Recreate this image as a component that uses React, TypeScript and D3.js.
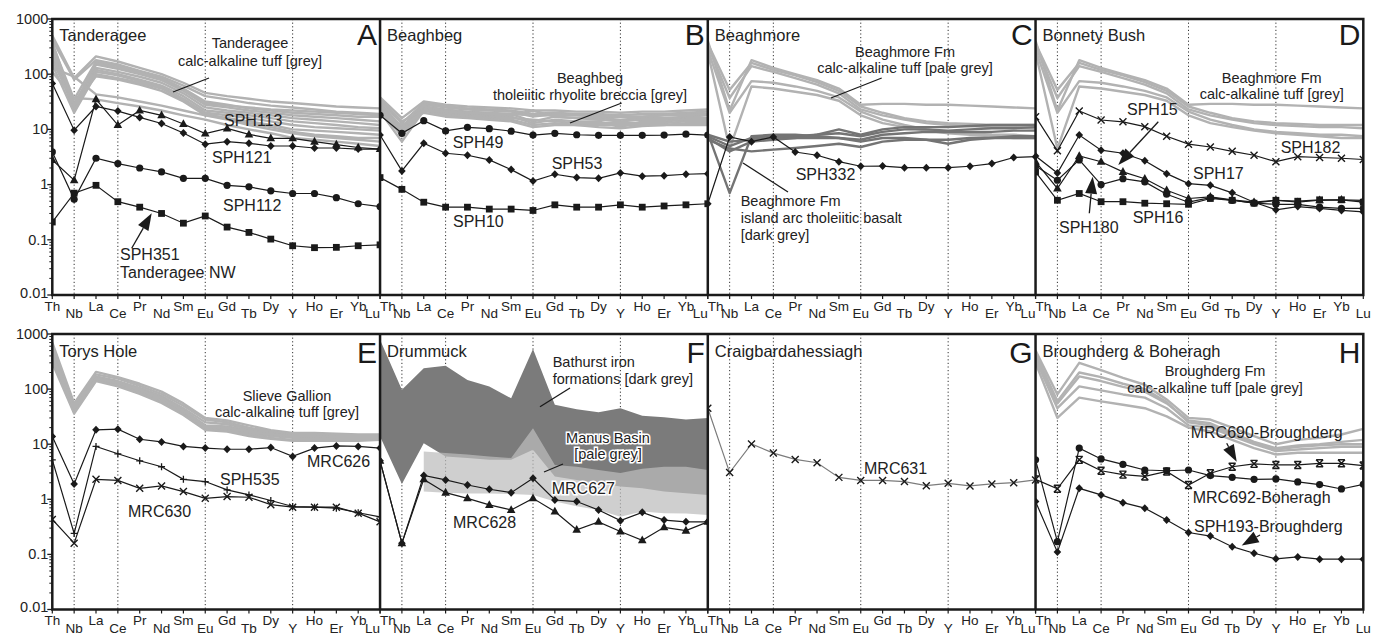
import React from 'react';
import * as d3 from 'd3';

// element order on every spider diagram
const ELEMENTS = ['Th', 'Nb', 'La', 'Ce', 'Pr', 'Nd', 'Sm', 'Eu', 'Gd', 'Tb', 'Dy', 'Y', 'Ho', 'Er', 'Yb', 'Lu'];
const DOTTED = ['Nb', 'Ce', 'Eu', 'Y'];
const Y_TICKS = [1000, 100, 10, 1, 0.1, 0.01];
const Y_TICK_LABELS = ['1000', '100', '10', '1', '0.1', '0.01'];

// ---- grey reference fields ----
const TANDERAGEE_TUFF = [
  [500, 85, 210, 170, 130, 100, 70, 46, 40, 36, 32, 30, 28, 26, 25, 24],
  [420, 80, 180, 150, 115, 90, 62, 40, 35, 30, 27, 25, 23, 21, 20, 19],
  [350, 35, 170, 140, 110, 85, 55, 32, 28, 24, 22, 20, 19, 18, 17, 17],
  [300, 25, 150, 125, 100, 78, 50, 28, 25, 22, 20, 18, 17, 16, 15, 14],
  [280, 30, 130, 110, 90, 70, 45, 25, 22, 20, 18, 16, 15, 14, 13, 12],
  [250, 22, 120, 100, 80, 62, 40, 22, 20, 18, 16, 14, 13, 12, 11, 10.5],
  [200, 24, 110, 95, 75, 58, 36, 20, 18, 16, 14, 12, 11, 10.5, 10, 9.5],
  [180, 28, 92, 80, 65, 50, 32, 18, 16, 14, 12, 10, 9.5, 9, 8.5, 8],
  [150, 20, 100, 85, 70, 55, 34, 19, 16, 13, 11, 9, 8, 7.5, 7, 7],
  [130, 90, 43, 38, 32, 27, 22, 18, 15, 12, 10, 8.5, 7.5, 7, 6.5, 6],
  [110, 37, 35, 30, 26, 22, 18, 15, 12, 10, 8.5, 7, 6.5, 6, 5.5, 5],
  [380, 27, 160, 130, 105, 82, 52, 30, 27, 25, 23, 22, 21, 20, 19, 18],
];
const BEAGHBEG_BRECCIA = [
  [38, 16, 32, 28, 26, 25, 24, 22, 22, 21, 21, 20, 21, 21, 22, 23],
  [33, 13, 30, 26, 24, 23, 22, 19, 20, 19, 19, 18, 19, 19, 20, 21],
  [30, 11, 28, 25, 23, 22, 21, 17, 19, 18, 17, 17, 17, 18, 19, 19],
  [28, 10, 26, 23, 21, 20, 19, 14, 17, 16, 16, 15, 16, 16, 17, 18],
  [26, 9, 25, 22, 20, 19, 18, 22, 17, 16, 15, 14, 15, 15, 16, 16],
  [24, 8, 24, 20, 19, 18, 17, 13, 15, 14, 14, 11, 14, 14, 15, 15],
  [22, 7.5, 23, 19, 18, 17, 16, 15, 14, 13, 13, 13, 13, 13, 14, 14],
  [21, 6, 22, 18, 17, 16, 15, 12, 13, 12, 12, 12, 12, 12, 13, 13],
  [20, 12, 20, 17, 16, 15, 14, 11, 12, 12, 11, 10.5, 11.5, 12, 12, 12],
  [35, 14, 22, 21, 20, 19, 19, 18, 18, 18, 18, 17, 17, 18, 18, 19],
];
const BEAGHMORE_TUFF = [
  [400, 22, 180, 130, 100, 78, 55, 28, 29, 29, 28, 28, 27, 26, 25, 24],
  [330, 37, 140, 110, 85, 65, 45, 23, 18, 15, 13, 12, 11.5, 11, 11, 10.5],
  [280, 20, 75, 70, 60, 50, 38, 21, 15, 12, 10, 9, 8.5, 8, 8, 7.5],
  [250, 4.5, 60, 55, 48, 42, 33, 18, 13, 11, 9.5, 8.5, 8, 7.5, 7, 7],
  [360, 52, 160, 120, 95, 72, 50, 26, 20, 16, 14, 13, 12.5, 12, 12, 12],
];
const BEAGHMORE_BASALT = [
  [8, 6, 6.5, 7, 7, 8, 10, 8, 10, 11, 11, 11, 11.5, 12, 12, 12],
  [7.5, 5, 7, 7.5, 7.5, 8, 8.5, 7.5, 9, 10, 10, 9.5, 10, 10.5, 10.5, 11],
  [7, 4, 6, 6.5, 7, 7, 7, 6.5, 8, 8.5, 9, 9, 9, 9, 9.5, 9.5],
  [8.5, 0.7, 7.5, 8, 8, 7.5, 7, 6, 7, 7, 6.5, 5.5, 6.5, 7, 7.5, 7.5],
  [6.5, 4.5, 4, 4.3, 4.6, 5, 5.5, 4.8, 6, 6.5, 6.5, 6.5, 7, 7, 7, 7],
];
const SLIEVE_GALLION_TUFF = [
  [700, 55, 205, 165, 125, 90, 55, 30, 27, 22, 18, 16, 16, 15.5, 15, 15],
  [600, 50, 185, 155, 115, 82, 50, 28, 25, 20, 17, 15, 15, 14.5, 14.5, 14.5],
  [500, 45, 170, 140, 105, 75, 45, 25, 23, 19, 16, 14, 14, 14, 14, 14],
  [450, 42, 160, 135, 100, 70, 42, 22, 21, 18, 15, 13.5, 13, 13, 13, 13],
  [400, 40, 150, 125, 92, 65, 38, 20, 19, 16, 14, 13, 12.5, 12.5, 12.5, 12.5],
  [350, 38, 145, 118, 88, 60, 36, 19, 18, 15, 13, 12, 12, 12, 12, 12],
  [300, 36, 140, 112, 82, 56, 34, 18, 17, 14, 12.5, 11.5, 11.5, 11.5, 11.5, 12],
  [380, 44, 155, 130, 96, 68, 40, 21, 20, 17, 15, 14, 14, 13.5, 13.5, 13.5],
];
const BROUGHDERG_TUFF = [
  [500, 80, 300, 220, 160, 120, 65, 30, 28, 20, 14, 10, 12, 13, 15, 19],
  [400, 55, 170, 140, 110, 90, 55, 27, 24, 16, 11, 8.5, 9.5, 10, 11, 12],
  [350, 45, 112, 95, 80, 70, 45, 22, 20, 14, 10, 7.5, 8, 8.5, 9, 9],
  [300, 30, 70, 60, 52, 45, 32, 20, 17, 12, 8.5, 6.5, 7, 7, 7, 7],
  [450, 60, 200, 165, 125, 100, 58, 25, 22, 15, 10.5, 8, 9, 9.5, 10, 10],
];

// Drummuck comparison fields (upper / lower envelopes)
const BATHURST_UPPER = [790, 97, 240, 265, 147, 112, 68, 535, 52, 43, 38, 45, 33, 31, 28, 30];
const BATHURST_LOWER = [13.8, 1.9, 10.4, 6.0, 5.6, 5.2, 5.2, 7.9, 2.6, 2.25, 1.95, 1.7, 1.58, 1.38, 1.29, 1.2];
const MANUS_ELEMENTS = ELEMENTS.slice(2);
const MANUS_UPPER = [7.4, 6.9, 6.5, 6.0, 5.6, 19.5, 4.2, 3.9, 3.4, 3.0, 3.6, 3.9, 3.9, 3.4];
const MANUS_LOWER = [1.38, 1.32, 1.28, 1.28, 1.25, 1.2, 0.91, 0.75, 0.64, 0.48, 0.6, 0.56, 0.55, 0.52];

// ---- samples ----
const SPH113 = [2.8, 1.2, 35, 12, 22, 18, 12.5, 8.4, 10.4, 8.1, 6.9, 6.9, 6.0, 5.3, 4.7, 4.4];
const SPH121 = [68, 9.7, 26, 21.5, 16.5, 12.8, 8.6, 5.4, 6.0, 5.6, 5.0, 5.0, 4.6, 4.6, 4.4, 4.4];
const SPH112 = [3.9, 0.54, 3.0, 2.4, 2.0, 1.7, 1.3, 1.3, 0.97, 0.91, 0.77, 0.69, 0.69, 0.58, 0.45, 0.40];
const SPH351 = [0.21, 0.70, 0.97, 0.49, 0.39, 0.30, 0.20, 0.27, 0.17, 0.136, 0.103, 0.078, 0.072, 0.073, 0.078, 0.081];
const SPH49 = [18, 8.5, 14.4, 9.4, 10.9, 10.3, 9.3, 7.9, 8.5, 8.0, 7.8, 7.8, 7.8, 7.9, 8.2, 7.9];
const SPH53 = [7.9, 1.77, 5.6, 3.7, 3.4, 2.8, 1.87, 1.16, 1.54, 1.34, 1.3, 1.63, 1.42, 1.45, 1.54, 1.58];
const SPH10 = [1.34, 0.82, 0.48, 0.39, 0.39, 0.36, 0.36, 0.34, 0.43, 0.39, 0.39, 0.43, 0.39, 0.41, 0.43, 0.45];
const SPH332 = [0.45, 7.3, 6.0, 7.3, 3.9, 3.4, 2.6, 2.15, 2.17, 2.03, 2.03, 2.03, 2.15, 2.4, 3.1, 3.2];
const SPH182 = [17, 4.1, 21.5, 14.8, 13.7, 11.2, 7.5, 5.4, 4.8, 4.0, 3.4, 2.6, 3.2, 3.1, 3.0, 2.85];
const SPH17 = [3.3, 1.62, 7.9, 4.2, 3.7, 2.7, 1.58, 1.04, 0.97, 0.71, 0.48, 0.35, 0.40, 0.37, 0.34, 0.32];
const SPH15 = [2.6, 0.85, 3.3, 2.6, 1.7, 1.28, 0.79, 0.56, 0.60, 0.53, 0.48, 0.52, 0.48, 0.52, 0.53, 0.52];
const SPH180 = [2.2, 1.2, 2.8, 1.0, 1.28, 1.12, 0.67, 0.48, 0.58, 0.52, 0.46, 0.44, 0.44, 0.39, 0.37, 0.37];
const SPH16 = [1.7, 0.52, 0.69, 0.49, 0.49, 0.46, 0.45, 0.44, 0.56, 0.52, 0.46, 0.52, 0.50, 0.53, 0.53, 0.48];
const MRC626 = [13.8, 1.9, 18.2, 18.7, 12.3, 11, 9.1, 8.5, 8.1, 8.1, 8.7, 6.0, 8.5, 9.3, 9.1, 8.5];
const SPH535 = [5.2, 0.24, 9.1, 6.7, 5.0, 3.9, 2.3, 2.1, 1.48, 1.2, 0.95, 0.74, 0.72, 0.69, 0.57, 0.48];
const MRC630 = [0.43, 0.16, 2.3, 2.2, 1.58, 1.75, 1.38, 1.04, 1.12, 1.09, 0.8, 0.72, 0.72, 0.72, 0.56, 0.39];
const MRC627 = [5.0, 0.16, 2.7, 2.25, 1.82, 1.52, 1.32, 2.4, 0.97, 0.91, 0.64, 0.41, 0.58, 0.42, 0.39, 0.39];
const MRC628 = [5.0, 0.16, 2.3, 1.32, 1.04, 0.79, 0.64, 1.04, 0.6, 0.28, 0.39, 0.26, 0.18, 0.31, 0.27, 0.39];
const MRC631 = [45, 3.05, 10.1, 6.9, 5.3, 4.6, 2.5, 2.2, 2.2, 2.1, 1.77, 1.95, 1.75, 1.9, 2.0, 2.25];
const MRC690 = [2.3, 1.55, 5.2, 3.3, 2.8, 2.6, 3.2, 1.82, 2.97, 3.9, 4.4, 4.2, 4.2, 4.5, 4.5, 4.1];
const MRC692 = [5.2, 0.17, 8.5, 5.4, 4.3, 3.4, 3.3, 3.4, 2.7, 2.5, 2.3, 2.34, 2.07, 1.85, 1.54, 1.87];
const SPH193 = [0.91, 0.11, 1.58, 1.2, 0.87, 0.69, 0.42, 0.25, 0.215, 0.138, 0.105, 0.083, 0.09, 0.082, 0.082, 0.082];

const INK = '#1a1a1a';
const PALE = '#b2b2b2';
const DARK = '#747474';
const TXT = '#222';
const FONT = "'Liberation Sans', Arial, Helvetica, sans-serif";

const PLOT_LEFT = 52.3;
const PANEL_W = 327.75;
const ROWS = [{ top: 19, bottom: 295 }, { top: 334, bottom: 609.5 }];

const PANELS = [
  { id: 'A', row: 0, col: 0, title: 'Tanderagee', grey: [{ sets: TANDERAGEE_TUFF, color: PALE }],
    samples: [{ v: SPH351, m: 'square' }, { v: SPH112, m: 'circle' }, { v: SPH121, m: 'diamond' }, { v: SPH113, m: 'triangle' }] },
  { id: 'B', row: 0, col: 1, title: 'Beaghbeg', grey: [{ sets: BEAGHBEG_BRECCIA, color: PALE }],
    samples: [{ v: SPH10, m: 'square' }, { v: SPH53, m: 'diamond' }, { v: SPH49, m: 'circle' }] },
  { id: 'C', row: 0, col: 2, title: 'Beaghmore', grey: [{ sets: BEAGHMORE_TUFF, color: PALE }, { sets: BEAGHMORE_BASALT, color: DARK }],
    samples: [{ v: SPH332, m: 'diamond' }] },
  { id: 'D', row: 0, col: 3, title: 'Bonnety Bush', grey: [{ sets: BEAGHMORE_TUFF, color: PALE }],
    samples: [{ v: SPH16, m: 'square' }, { v: SPH180, m: 'circle' }, { v: SPH15, m: 'triangle' }, { v: SPH17, m: 'diamond' }, { v: SPH182, m: 'cross' }] },
  { id: 'E', row: 1, col: 0, title: 'Torys Hole', grey: [{ sets: SLIEVE_GALLION_TUFF, color: PALE }],
    samples: [{ v: MRC630, m: 'cross' }, { v: SPH535, m: 'plus' }, { v: MRC626, m: 'diamond' }] },
  { id: 'F', row: 1, col: 1, title: 'Drummuck', grey: [],
    samples: [{ v: MRC628, m: 'triangle' }, { v: MRC627, m: 'diamond' }] },
  { id: 'G', row: 1, col: 2, title: 'Craigbardahessiagh', grey: [],
    samples: [{ v: MRC631, m: 'cross', line: '#7c7c7c' }] },
  { id: 'H', row: 1, col: 3, title: 'Broughderg & Boheragh', grey: [{ sets: BROUGHDERG_TUFF, color: PALE }],
    samples: [{ v: SPH193, m: 'diamond' }, { v: MRC692, m: 'circle' }, { v: MRC690, m: 'star' }] },
];

type Label = { x: number; y: number; t: string; size?: number; anchor?: string; halo?: boolean };
const LABELS: Label[] = [
  { x: 250, y: 48, t: 'Tanderagee', anchor: 'middle' },
  { x: 250, y: 66, t: 'calc-alkaline tuff [grey]', anchor: 'middle' },
  { x: 224, y: 126, t: 'SPH113', size: 16 },
  { x: 212, y: 163, t: 'SPH121', size: 16 },
  { x: 223, y: 211, t: 'SPH112', size: 16 },
  { x: 120, y: 260, t: 'SPH351', size: 16 },
  { x: 120, y: 278, t: 'Tanderagee NW', size: 16 },
  { x: 590, y: 83, t: 'Beaghbeg', anchor: 'middle' },
  { x: 590, y: 100, t: 'tholeiitic rhyolite breccia [grey]', anchor: 'middle' },
  { x: 452.7, y: 148, t: 'SPH49', size: 16 },
  { x: 551.7, y: 169, t: 'SPH53', size: 16 },
  { x: 453, y: 227, t: 'SPH10', size: 16 },
  { x: 905, y: 57, t: 'Beaghmore Fm', anchor: 'middle' },
  { x: 905, y: 73, t: 'calc-alkaline tuff [pale grey]', anchor: 'middle' },
  { x: 795.7, y: 180, t: 'SPH332', size: 16 },
  { x: 740.7, y: 206, t: 'Beaghmore Fm' },
  { x: 740.7, y: 223, t: 'island arc tholeiitic basalt' },
  { x: 740.7, y: 240, t: '[dark grey]' },
  { x: 1271.7, y: 83, t: 'Beaghmore Fm', anchor: 'middle' },
  { x: 1271.7, y: 99, t: 'calc-alkaline tuff [grey]', anchor: 'middle' },
  { x: 1127, y: 115, t: 'SPH15', size: 16 },
  { x: 1280.7, y: 153, t: 'SPH182', size: 16 },
  { x: 1193, y: 179, t: 'SPH17', size: 16 },
  { x: 1132.7, y: 223, t: 'SPH16', size: 16 },
  { x: 1059, y: 233, t: 'SPH180', size: 16 },
  { x: 287, y: 400.7, t: 'Slieve Gallion', anchor: 'middle' },
  { x: 287, y: 416.7, t: 'calc-alkaline tuff [grey]', anchor: 'middle' },
  { x: 307, y: 467, t: 'MRC626', size: 16 },
  { x: 220, y: 485, t: 'SPH535', size: 16 },
  { x: 128, y: 516.7, t: 'MRC630', size: 16 },
  { x: 552.7, y: 367, t: 'Bathurst iron' },
  { x: 552.7, y: 384, t: 'formations [dark grey]' },
  { x: 608, y: 442.7, t: 'Manus Basin', anchor: 'middle', halo: true },
  { x: 608, y: 459, t: '[pale grey]', anchor: 'middle', halo: true },
  { x: 551.7, y: 494, t: 'MRC627', size: 16, halo: true },
  { x: 453, y: 528, t: 'MRC628', size: 16 },
  { x: 864, y: 474, t: 'MRC631', size: 16 },
  { x: 1215, y: 376, t: 'Broughderg Fm', anchor: 'middle' },
  { x: 1215, y: 393, t: 'calc-alkaline tuff [pale grey]', anchor: 'middle' },
  { x: 1190.7, y: 438, t: 'MRC690-Broughderg', size: 16 },
  { x: 1192.7, y: 503, t: 'MRC692-Boheragh', size: 16 },
  { x: 1194, y: 531.7, t: 'SPH193-Broughderg', size: 16 },
];
const LEADERS = [
  [209, 78, 173, 92], [621.7, 103, 570, 123], [881.7, 78, 831, 98], [788, 192, 743, 163],
  [570, 388, 540, 406.7], [563, 464, 544, 472],
];
const ARROWS = [
  [131.7, 248.3, 151.7, 213.3], [1158.3, 121.7, 1118.3, 165], [1089.3, 213.3, 1092.7, 176.7],
  [1226.7, 443.3, 1236.7, 461.7], [1260, 535, 1241.7, 545.5],
];

function Marker({ type, x, y }: { type: string; x: number; y: number }) {
  if (type === 'circle') return <circle cx={x} cy={y} r={3.6} fill={INK} />;
  if (type === 'square') return <rect x={x - 3.4} y={y - 3.4} width={6.8} height={6.8} fill={INK} />;
  if (type === 'triangle') return <path d={`M${x},${y - 4.8}L${x + 4.3},${y + 3}L${x - 4.3},${y + 3}Z`} fill={INK} />;
  if (type === 'diamond') return <path d={`M${x},${y - 4}L${x + 3.8},${y}L${x},${y + 4}L${x - 3.8},${y}Z`} fill={INK} />;
  if (type === 'cross')
    return <path d={`M${x - 3.5},${y - 3.5}L${x + 3.5},${y + 3.5}M${x + 3.5},${y - 3.5}L${x - 3.5},${y + 3.5}`} stroke={INK} strokeWidth={1.4} />;
  if (type === 'plus')
    return <path d={`M${x - 3.5},${y}L${x + 3.5},${y}M${x},${y - 3.5}L${x},${y + 3.5}`} stroke={INK} strokeWidth={1.3} />;
  // star: x with a bar top and bottom
  return (
    <path
      d={`M${x - 3.5},${y - 3.5}L${x + 3.5},${y + 3.5}M${x + 3.5},${y - 3.5}L${x - 3.5},${y + 3.5}M${x - 3.5},${y - 3.5}L${x + 3.5},${y - 3.5}M${x - 3.5},${y + 3.5}L${x + 3.5},${y + 3.5}`}
      stroke={INK}
      strokeWidth={1.4}
    />
  );
}

function Arrow({ x1, y1, x2, y2 }: { x1: number; y1: number; x2: number; y2: number }) {
  const dx = x2 - x1, dy = y2 - y1;
  const len = Math.hypot(dx, dy);
  const ux = dx / len, uy = dy / len;
  const head = Math.min(17, len * 0.9), hw = 6;
  const bx = x2 - ux * head, by = y2 - uy * head;
  return (
    <g>
      <line x1={x1} y1={y1} x2={bx} y2={by} stroke={INK} strokeWidth={1.3} />
      <path d={`M${x2},${y2}L${bx - uy * hw},${by + ux * hw}L${bx + uy * hw},${by - ux * hw}Z`} fill={INK} />
    </g>
  );
}

function Panel({ p }: { p: typeof PANELS[number] }) {
  const row = ROWS[p.row];
  const x0 = PLOT_LEFT + p.col * PANEL_W;
  const x = d3.scalePoint<string>().domain(ELEMENTS).range([x0, x0 + PANEL_W]);
  const y = d3.scaleLog().domain([0.01, 1000]).range([row.bottom, row.top]);
  const line = d3.line<number>().x((_, i) => x(ELEMENTS[i]) as number).y((v) => y(v));
  const clipId = `clip-${p.id}`;

  let fields = null;
  if (p.id === 'F') {
    const bath = d3.area<number>().x((_, i) => x(ELEMENTS[i]) as number).y0((_, i) => y(BATHURST_LOWER[i])).y1((v) => y(v));
    const manus = d3.area<number>().x((_, i) => x(MANUS_ELEMENTS[i]) as number).y0((_, i) => y(MANUS_LOWER[i])).y1((v) => y(v));
    fields = (
      <g>
        <path d={bath(BATHURST_UPPER) || ''} fill="#7b7b7b" />
        <path d={manus(MANUS_UPPER) || ''} fill="#bdbdbd" fillOpacity={0.72} />
      </g>
    );
  }

  return (
    <g>
      <defs>
        <clipPath id={clipId}>
          <rect x={x0} y={row.top} width={PANEL_W} height={row.bottom - row.top} />
        </clipPath>
      </defs>
      {DOTTED.map((e) => (
        <line key={e} x1={x(e)} x2={x(e)} y1={row.top} y2={row.bottom} stroke="#333" strokeWidth={1} strokeDasharray="1.2,2.4" />
      ))}
      <g clipPath={`url(#${clipId})`}>
        {fields}
        {p.grey.map((g, gi) =>
          g.sets.map((s, si) => (
            <path key={`${gi}-${si}`} d={line(s) || ''} fill="none" stroke={g.color} strokeWidth={2.4} strokeLinejoin="round" />
          ))
        )}
        {p.samples.map((s, si) => (
          <g key={si}>
            <path d={line(s.v) || ''} fill="none" stroke={s.line || INK} strokeWidth={1.2} />
            {s.v.map((v, i) => (
              <Marker key={i} type={s.m} x={x(ELEMENTS[i]) as number} y={y(v)} />
            ))}
          </g>
        ))}
      </g>
      {/* element ticks and staggered labels */}
      {ELEMENTS.map((e, i) => {
        const xi = x(e) as number;
        let anchor = 'middle';
        if (i === 0 && p.col > 0) anchor = 'start';
        if (i === ELEMENTS.length - 1 && p.col < 3) anchor = 'end';
        return (
          <g key={e}>
            <line x1={xi} x2={xi} y1={row.bottom} y2={row.bottom + 4} stroke={INK} strokeWidth={1.2} />
            <text x={xi} y={row.bottom + (i % 2 === 0 ? 15.5 : 23)} textAnchor={anchor} fontSize={13.5} fill={TXT} fontFamily={FONT}>
              {e}
            </text>
          </g>
        );
      })}
      <text x={x0 + 7} y={p.row === 0 ? 40.5 : 357} fontSize={16.5} fill={TXT} fontFamily={FONT}>
        {p.title}
      </text>
      <text x={x0 + PANEL_W - 3} y={p.row === 0 ? 45 : 363} textAnchor="end" fontSize={30} fill={INK} fontFamily={FONT}>
        {p.id}
      </text>
      {p.col === 0 && (
        <g>
          {Y_TICKS.map((t, i) => (
            <g key={t}>
              <line x1={x0 - 5} x2={x0} y1={y(t)} y2={y(t)} stroke={INK} strokeWidth={1.3} />
              <text x={x0 - 4} y={y(t) - (t === 0.01 ? 2 : 0)} dy="0.33em" textAnchor="end" fontSize={14.5} fill={TXT} fontFamily={FONT}>
                {Y_TICK_LABELS[i]}
              </text>
            </g>
          ))}
          {d3.range(-2, 3).flatMap((d) =>
            d3.range(2, 10).map((k) => {
              const yy = y(k * Math.pow(10, d));
              return <line key={`${d}-${k}`} x1={x0 - 3} x2={x0} y1={yy} y2={yy} stroke={INK} strokeWidth={1} />;
            })
          )}
        </g>
      )}
    </g>
  );
}

export default function App() {
  return (
    <svg width={1391} height={636} style={{ position: 'absolute', left: 0, top: 0, background: '#fff' }}>
      <rect x={0} y={0} width={1391} height={636} fill="#fff" />
      {PANELS.map((p) => (
        <Panel key={p.id} p={p} />
      ))}
      {LEADERS.map((l, i) => (
        <line key={i} x1={l[0]} y1={l[1]} x2={l[2]} y2={l[3]} stroke={INK} strokeWidth={1.3} />
      ))}
      {ARROWS.map((a, i) => (
        <Arrow key={i} x1={a[0]} y1={a[1]} x2={a[2]} y2={a[3]} />
      ))}
      {LABELS.map((l, i) => (
        <text
          key={i}
          x={l.x}
          y={l.y}
          textAnchor={l.anchor || 'start'}
          fontSize={l.size || 14.5}
          fill={TXT}
          fontFamily={FONT}
          stroke={l.halo ? '#fff' : 'none'}
          strokeWidth={l.halo ? 3 : 0}
          paintOrder="stroke"
        >
          {l.t}
        </text>
      ))}
      {/* frames */}
      {ROWS.map((r, ri) => (
        <g key={ri}>
          <rect x={PLOT_LEFT} y={r.top} width={PANEL_W * 4} height={r.bottom - r.top} fill="none" stroke={INK} strokeWidth={2.5} />
          {[1, 2, 3].map((c) => (
            <line key={c} x1={PLOT_LEFT + c * PANEL_W} x2={PLOT_LEFT + c * PANEL_W} y1={r.top} y2={r.bottom} stroke={INK} strokeWidth={2.5} />
          ))}
        </g>
      ))}
    </svg>
  );
}
